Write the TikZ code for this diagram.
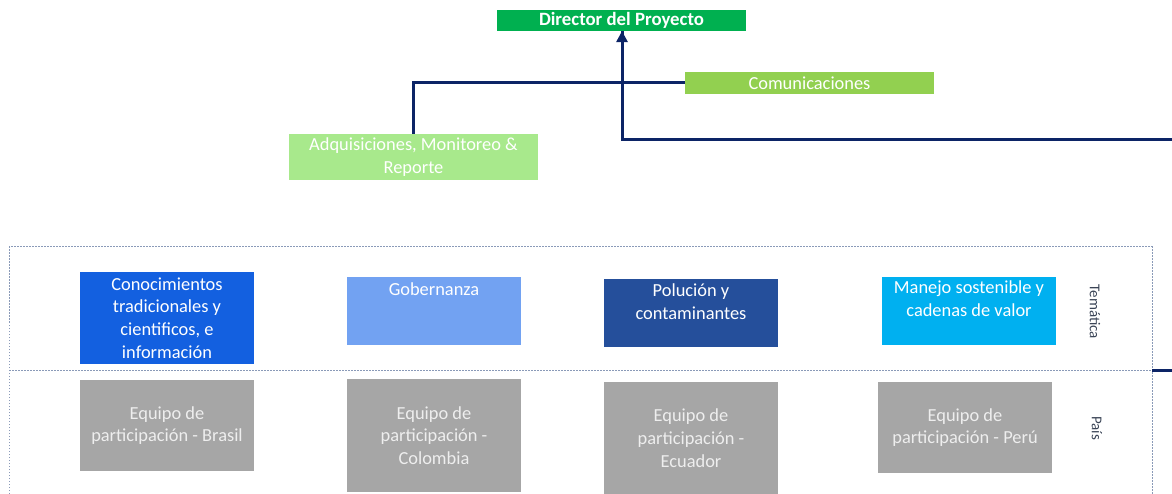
\documentclass[tikz,border=0pt]{standalone}
\usepackage{fontspec}
\setmainfont{Carlito}
\usetikzlibrary{arrows.meta}
\definecolor{dirgreen}{HTML}{00B050}
\definecolor{comgreen}{HTML}{92D050}
\definecolor{adqgreen}{HTML}{A8E98C}
\definecolor{conblue}{HTML}{1360E0}
\definecolor{gobblue}{HTML}{72A2F2}
\definecolor{polblue}{HTML}{254F9B}
\definecolor{manblue}{HTML}{00B0F0}
\definecolor{boxgrey}{HTML}{A6A6A6}
\definecolor{navy}{HTML}{0C2466}
\definecolor{dotline}{HTML}{8A9AB8}
\definecolor{sidetext}{HTML}{3A4456}
\definecolor{greytext}{HTML}{EEEEEE}
\tikzset{
  box/.style={rectangle, inner sep=0pt, draw=none, align=center, text=white,
    font=\fontsize{18.4}{22.8}\selectfont},
  conn/.style={draw=navy, line width=3pt},
  sidelabel/.style={font=\fontsize{15}{17}\selectfont, text=sidetext, rotate=-90, inner sep=0pt},
  frame/.style={draw=dotline, line width=1pt, dash pattern=on 1.5pt off 1.5pt}
}
\begin{document}
\begin{tikzpicture}[x=1pt,y=-1pt]
\useasboundingbox (0,0) rectangle (1172,494);
% top
\node[box, fill=dirgreen, minimum width=249pt, minimum height=21pt, font=\fontsize{18.8}{23}\selectfont\bfseries] (dir) at (621.5,20.5) {Director del Proyecto};
\node[box, fill=comgreen, minimum width=249pt, minimum height=22pt] (com) at (809.5,83) {Comunicaciones};
\node[box, fill=adqgreen, minimum width=249pt, minimum height=46pt] (adq) at (413.5,157) {Adquisiciones, Monitoreo \&\\Reporte};
\coordinate (right1) at (1172,140);
\coordinate (corner1) at (622,140);
\coordinate (corner2) at (413,83);
\draw[conn] (right1) -- (corner1) -- (corner1 |- dir.south);
\fill[navy] ([xshift=-6pt,yshift=-11pt]corner1 |- dir.south) -- (corner1 |- dir.south) -- ([xshift=6pt,yshift=-11pt]corner1 |- dir.south) -- cycle;
\draw[conn] (com.west) -- (corner2) -- (corner2 |- adq.north);
% frame
\coordinate (fbl) at (9,500);
\coordinate (ftl) at (9,247);
\coordinate (ftr) at (1152,247);
\coordinate (fbr) at (1152,500);
\coordinate (fml) at (9,370);
\coordinate (fmr) at (1152,370);
\coordinate (right2) at (1172,370);
\draw[frame] (fbl) -- (ftl) -- (ftr) -- (fbr);
\draw[frame] (fml) -- (fmr);
\draw[conn] (fmr) -- (right2);
% thematic
\node[box, fill=conblue, minimum width=174pt, minimum height=91pt] (con) at (167,318) {Conocimientos\\tradicionales y\\cientificos, e\\información};
\node[box, fill=gobblue, minimum width=174pt, minimum height=68pt] (gob) at (434,311) {};
\node[box] (gobt) at ([yshift=-12pt]gob.north) {Gobernanza};
\node[box, fill=polblue, minimum width=174pt, minimum height=68pt] (pol) at (691,313) {};
\node[box] (polt) at ([yshift=-23pt]pol.north) {Polución y\\contaminantes};
\node[box, fill=manblue, minimum width=174pt, minimum height=68pt] (man) at (969,311) {};
\node[box] (mant) at ([yshift=-22pt]man.north) {Manejo sostenible y\\cadenas de valor};
% country
\node[box, fill=boxgrey, text=greytext, minimum width=174pt, minimum height=91pt] (bra) at (167,425.5) {Equipo de\\participación - Brasil};
\node[box, fill=boxgrey, text=greytext, minimum width=174pt, minimum height=113pt] (col) at (434,435.5) {Equipo de\\participación -\\Colombia};
\node[box, fill=boxgrey, text=greytext, minimum width=174pt, minimum height=112pt] (ecu) at (691,438) {Equipo de\\participación -\\Ecuador};
\node[box, fill=boxgrey, text=greytext, minimum width=174pt, minimum height=91pt] (per) at (965,427.5) {Equipo de\\participación - Perú};
% side labels
\node[sidelabel] (tem) at (1095,312) {Temática};
\node[sidelabel] (pais) at (1097,428) {País};
\end{tikzpicture}
\end{document}
